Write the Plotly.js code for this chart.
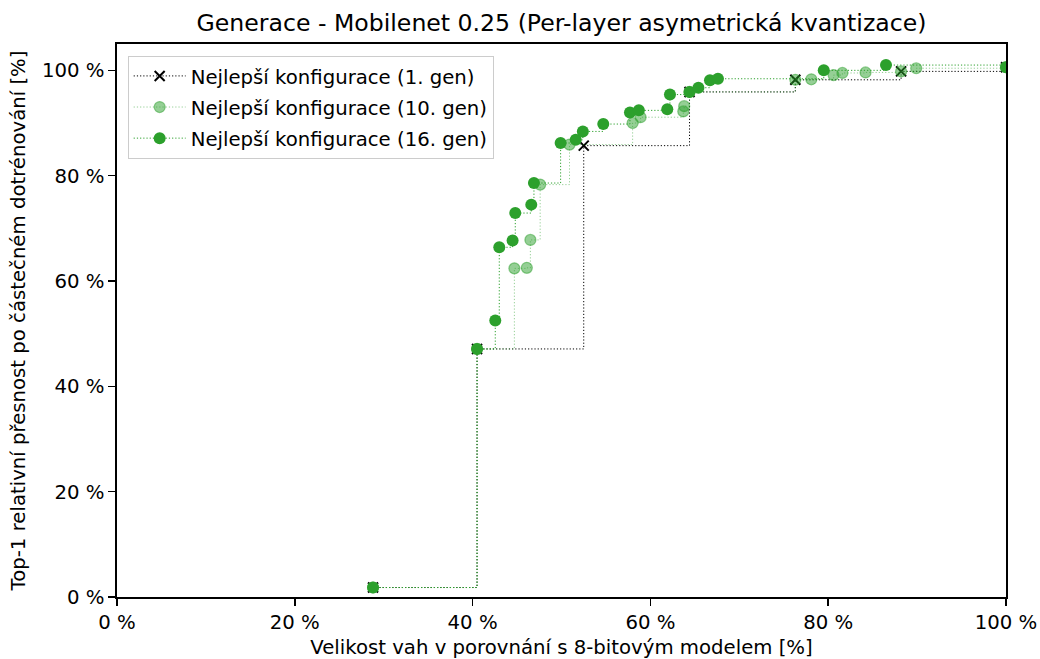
<!DOCTYPE html>
<html>
<head>
<meta charset="utf-8">
<script src="https://cdn.plot.ly/plotly-3.0.1.min.js"></script>
<style>html,body{margin:0;padding:0;background:#fff;}#chart{width:1040px;height:659px;}</style>
</head>
<body>
<div id="chart"></div>
<script>
// Generation 1
const gen1X = [28.8, 40.5, 52.5, 64.4, 76.3, 88.2, 100.0];
const gen1Y = [1.8, 47.1, 85.7, 95.9, 98.2, 99.8, 100.6];
// Generation 10
const gen10X = [28.8, 40.5, 44.7, 46.1, 46.5, 47.6, 50.9, 58.0, 58.9, 63.7, 63.8, 64.4, 76.3, 78.1, 80.6, 81.6, 84.2, 88.2, 89.9, 100.0];
const gen10Y = [1.8, 47.1, 62.4, 62.5, 67.8, 78.3, 85.9, 90.0, 91.1, 92.2, 93.2, 95.9, 98.2, 98.3, 99.1, 99.5, 99.6, 99.8, 100.4, 100.6];
// Generation 16
const gen16X = [28.8, 40.5, 42.55, 43.0, 44.5, 44.8, 46.6, 46.9, 49.9, 51.6, 52.4, 54.7, 57.7, 58.7, 61.9, 62.2, 64.4, 65.4, 66.7, 67.6, 79.5, 86.5, 100.0];
const gen16Y = [1.8, 47.1, 52.5, 66.4, 67.7, 72.9, 74.5, 78.6, 86.2, 86.8, 88.4, 89.8, 92.0, 92.4, 92.6, 95.4, 95.9, 96.7, 98.1, 98.4, 100.0, 101.0, 100.6];

const tickVals = [0, 20, 40, 60, 80, 100];
const tickText = ["0 %", "20 %", "40 %", "60 %", "80 %", "100 %"];
const seriesNames = ["Nejlepší konfigurace (1. gen)", "Nejlepší konfigurace (10. gen)", "Nejlepší konfigurace (16. gen)"];

const green = "#2ca02c";
const greenA = "rgba(44,160,44,0.5)";
const dotDash = "1.2px,2px";

const traces = [
  {x: gen1X, y: gen1Y, name: seriesNames[0], mode: "lines+markers", legendgroup: "g1",
   line: {shape: "hv", dash: dotDash, color: "black", width: 1},
   marker: {symbol: "x-thin", size: 10, color: "black", line: {color: "black", width: 2}}},
  {x: gen10X, y: gen10Y, name: seriesNames[1], mode: "lines+markers", legendgroup: "g10",
   line: {shape: "hv", dash: dotDash, color: greenA, width: 1},
   marker: {symbol: "circle", size: 11, color: greenA, line: {color: greenA, width: 1.2}}},
  {x: gen16X, y: gen16Y, name: seriesNames[2], mode: "lines+markers", legendgroup: "g16",
   line: {shape: "hv", dash: dotDash, color: green, width: 1},
   marker: {symbol: "circle", size: 12, color: green, line: {width: 0}}}
];

const axisCommon = {
  showgrid: false, zeroline: false, showline: true, mirror: true,
  linecolor: "black", linewidth: 1.6, ticks: "outside", ticklen: 7, tickwidth: 1.6,
  tickcolor: "black", tickfont: {size: 19.7, color: "black"},
  tickvals: tickVals, ticktext: tickText
};

const layout = {
  width: 1040, height: 659,
  margin: {l: 117, r: 34, t: 44, b: 62},
  paper_bgcolor: "white", plot_bgcolor: "white",
  font: {family: "DejaVu Sans", color: "black"},
  title: {text: "Generace - Mobilenet 0.25 (Per-layer asymetrická kvantizace)",
          font: {size: 23.6}, xref: "paper", x: 0.5, xanchor: "center",
          yref: "container", y: 0.966, yanchor: "middle"},
  xaxis: Object.assign({}, axisCommon, {range: [0, 100],
    title: {text: "Velikost vah v porovnání s 8-bitovým modelem [%]", font: {size: 19.7}, standoff: 14}}),
  yaxis: Object.assign({}, axisCommon, {range: [0, 105],
    title: {text: "Top-1 relativní přesnost po částečném dotrénování [%]", font: {size: 19.7}, standoff: 11}}),
  legend: {x: 0.012, y: 0.979, xanchor: "left", yanchor: "top",
           bgcolor: "white", bordercolor: "#cccccc", borderwidth: 1,
           font: {size: 19.7}, itemwidth: 52, tracegroupgap: 2.5},
  showlegend: true
};

Plotly.newPlot("chart", traces, layout, {staticPlot: true});
</script>
</body>
</html>
